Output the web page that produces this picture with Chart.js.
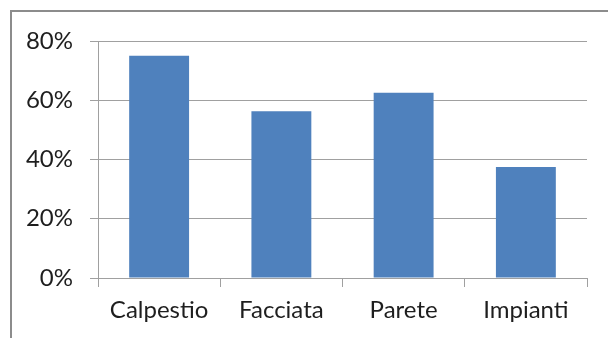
<!DOCTYPE html>
<html>
<head>
<meta charset="utf-8">
<script src="https://cdn.jsdelivr.net/npm/chart.js@4/dist/chart.umd.min.js"></script>
<style>
html,body{margin:0;padding:0;background:#fff;overflow:hidden;}
#wrap{position:relative;width:608px;height:338px;}
#frame{position:absolute;left:10px;top:10px;width:700px;height:400px;border-top:2px solid #8c8c8c;border-left:2px solid #8c8c8c;box-sizing:border-box;}
canvas{position:absolute;left:0;top:0;}
</style>
</head>
<body>
<div id="wrap">
<div id="frame"></div>
<canvas id="c" width="608" height="338"></canvas>
</div>
<script>
const categories = ["Calpestio", "Facciata", "Parete", "Impianti"];
const values = [75, 56.25, 62.5, 37.5];
const yTicks = [0, 20, 40, 60, 80];

const gridColor = "#a0a0a0";
const textColor = "#1e1e1e";
const fontFamily = "Lato, 'Open Sans', sans-serif";

new Chart(document.getElementById("c"), {
  type: "bar",
  data: {
    labels: categories,
    datasets: [{
      data: values,
      backgroundColor: "#4f81bd",
      borderWidth: 0,
      categoryPercentage: 1,
      barPercentage: 0.49
    }]
  },
  options: {
    responsive: false,
    animation: false,
    events: [],
    layout: { padding: { left: 0, top: 41, right: 21, bottom: 0 } },
    plugins: { legend: { display: false }, tooltip: { enabled: false } },
    scales: {
      x: {
        offset: true,
        grid: { display: true, drawOnChartArea: false, drawTicks: true, tickLength: 9, color: gridColor, lineWidth: 1, offset: true },
        border: { display: true, color: gridColor, width: 1 },
        ticks: { color: textColor, font: { family: fontFamily, size: 24 }, padding: 9, maxRotation: 0 },
        afterFit: (s) => { s.height = 60; }
      },
      y: {
        min: 0, max: 80,
        afterBuildTicks: (s) => { s.ticks = yTicks.map(v => ({ value: v })); },
        grid: { color: gridColor, lineWidth: 1, drawTicks: true, tickLength: 8 },
        border: { display: true, color: gridColor, width: 1 },
        ticks: { color: textColor, font: { family: fontFamily, size: 24 }, padding: 17, callback: (v) => v + "%" },
        afterFit: (s) => { s.width = 98; }
      }
    }
  }
});
</script>
</body>
</html>
